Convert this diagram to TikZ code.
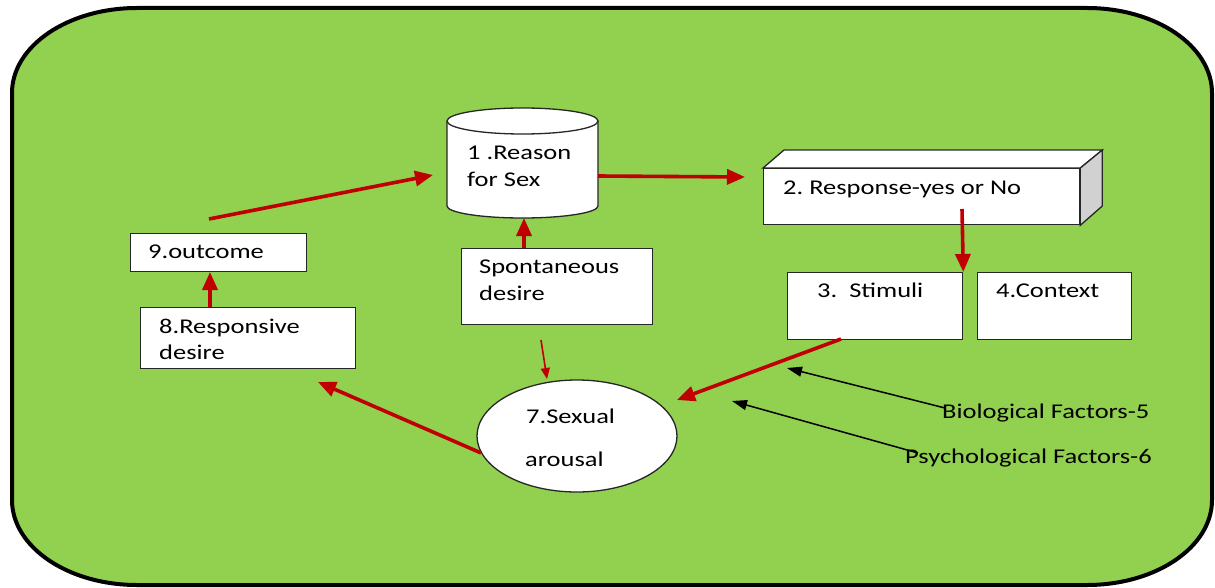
\documentclass[tikz,border=0pt]{standalone}
\usepackage{fontspec}
\setmainfont{Carlito}[FakeStretch=1.26]
\usetikzlibrary{shapes.geometric,arrows.meta,calc}
\definecolor{bggreen}{HTML}{92D050}
\definecolor{arrred}{HTML}{C00000}
\begin{document}
\frenchspacing
\begin{tikzpicture}[x=1pt,y=-1pt,
  box/.style={draw=black!85, fill=white, line width=1.3pt, inner sep=0pt, anchor=north west},
  edge/.style={draw=black!85, line width=1.3pt},
  txt/.style={font=\fontsize{21}{25}\selectfont, inner sep=0pt, anchor=base west, text=black},
  bigarrow/.style={draw=arrred, line width=3.6pt, -{Triangle[length=18pt,width=15pt]}},
  thinarrow/.style={draw=arrred, line width=1.6pt, -{Triangle[length=11pt,width=9pt]}},
  blackarrow/.style={draw=black, line width=1.5pt, -{Triangle[length=15pt,width=10pt]}}]
\useasboundingbox (0,0) rectangle (1215,588);
% background panel
\draw[line width=4pt, fill=bggreen] (12,93) .. controls (12,46) and (68,8) .. (137,8)
  -- (1087,8) .. controls (1156,8) and (1212,46) .. (1212,93)
  -- (1212,500) .. controls (1212,547) and (1156,585) .. (1087,585)
  -- (137,585) .. controls (68,585) and (12,547) .. (12,500) -- cycle;

% cylinder 1
\fill[white] (447,121) -- (447,206) .. controls (447,212.6) and (480.8,218) .. (522.5,218)
  .. controls (564.2,218) and (598,212.6) .. (598,206) -- (598,121) -- cycle;
\draw[edge] (447,121) -- (447,206) .. controls (447,212.6) and (480.8,218) .. (522.5,218)
  .. controls (564.2,218) and (598,212.6) .. (598,206) -- (598,121);
\draw[edge, fill=white] (522.5,121) ellipse[x radius=75.5pt, y radius=13pt];
\node[inner sep=0pt, minimum width=151, minimum height=97, anchor=north west] (reason) at (447,121) {};

% cuboid 2
\node[box, minimum width=316, minimum height=56] (response) at (763,168) {};
\draw[edge, fill=white] (response.north west) -- ++(21,-18) -- ($(response.north east)+(22,-18)$) -- (response.north east) -- cycle;
\draw[edge, fill=black!18] (response.north east) -- ++(22,-18) -- ++(0,56) -- (response.south east) -- cycle;

% boxes
\node[box, minimum width=175, minimum height=67] (stimuli) at (787,272) {};
\node[box, minimum width=154, minimum height=67] (context) at (977,272) {};
\node[box, minimum width=191, minimum height=76] (spont) at (461,248) {};
\node[box, minimum width=176, minimum height=38] (outcome) at (130,233) {};
\node[box, minimum width=215, minimum height=61] (responsive) at (140,307) {};
\node[draw=black!85, fill=white, line width=1.3pt, ellipse, inner sep=0pt,
  minimum width=200, minimum height=112] (arousal) at (577,436) {};

% texts
\node[txt] (t1a) at (467,160) {1 .Reason};
\node[txt] (t1b) at (467,187) {for Sex};
\node[txt] (t2) at (783,195) {2. Response-yes or No};
\node[txt] (t3) at (817,297) {3.~ Stimuli};
\node[txt] (t4) at (996,297) {4.Context};
\node[txt] (tsa) at (479,273) {Spontaneous};
\node[txt] (tsb) at (479,300) {desire};
\node[txt] (t9) at (148,258) {9.outcome};
\node[txt] (t8a) at (159,333) {8.Responsive};
\node[txt] (t8b) at (159,359) {desire};
\node[txt] (t7a) at (526,423) {7.Sexual};
\node[txt] (t7b) at (525,466) {arousal};
\node[txt] (bio) at (942,418) {Biological Factors-5};
\node[txt] (psy) at (905,463) {Psychological Factors-6};

% connector end points
\coordinate (o9) at (209,219);
\coordinate (i1) at (433,175);
\coordinate (o1) at (598,176);
\coordinate (i2) at (745,177);
\coordinate (o2) at (962,209);
\coordinate (o3) at (841,339);
\coordinate (i7) at (677,400);
\coordinate (os) at (524,248);
\coordinate (is) at (524,218);
\coordinate (os2) at (541,340);
\coordinate (is2) at (547,379);
\coordinate (i8) at (318,382);
\coordinate (o8) at (210,307);
\coordinate (i9) at (210,272);
\coordinate (ob) at (945,408);
\coordinate (ib) at (787,368);
\coordinate (op) at (918,453);
\coordinate (ip) at (732,401);

% connectors
\draw[bigarrow] (o9) -- (i1);
\draw[bigarrow] (o1) -- (i2);
\draw[bigarrow] (o2) -- (stimuli.north east);
\draw[bigarrow] (o3) -- (i7);
\draw[bigarrow] (os) -- (is);
\draw[thinarrow] (os2) -- (is2);
\draw[bigarrow] (arousal.190) -- (i8);
\draw[bigarrow] (o8) -- (i9);
\draw[blackarrow] (ob) -- (ib);
\draw[blackarrow] (op) -- (ip);
\end{tikzpicture}
\end{document}
